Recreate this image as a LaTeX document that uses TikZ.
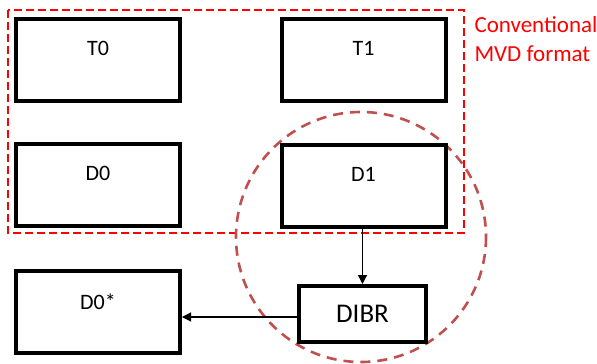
\documentclass[tikz,border=0pt]{standalone}
\usepackage{fontspec}
\setmainfont{Carlito}
\usetikzlibrary{arrows.meta}
\definecolor{mvdred}{RGB}{255,0,0}
\definecolor{roundred}{RGB}{192,80,77}
\tikzset{
  frame/.style={draw=black, line width=4pt, fill=white, inner sep=0pt,
    minimum width=164pt, minimum height=82pt,
    font=\fontsize{22}{26}\selectfont, text height=14pt, text depth=22.5pt},
  procbox/.style={draw=black, line width=4pt, fill=white, inner sep=0pt,
    minimum width=127pt, minimum height=56pt,
    font=\fontsize{27}{32}\selectfont},
  flow/.style={draw=black, line width=1.2pt, -{Triangle[length=9pt,width=9pt]}},
  mvdframe/.style={draw=mvdred, line width=2.6pt, dash pattern=on 8pt off 4pt},
  dibrzone/.style={draw=roundred, line width=2.6pt, dash pattern=on 10pt off 7pt}
}
\begin{document}
\begin{tikzpicture}[x=1pt, y=-1pt]
  \useasboundingbox (0,0) rectangle (597,364);

  % region of the conventional multiview-plus-depth format
  \draw[mvdframe] (8,10) rectangle (464,233);
  \node[anchor=base west, text=mvdred, align=left,
        font=\fontsize{23}{28.5}\selectfont] (caption) at (471,61)
        {Conventional\\MVD format};

  % region handled by depth-image-based rendering
  \draw[dibrzone] (361,237) circle[radius=125];

  % texture and depth views
  \node[frame] (t0) at (98,60) {T0};
  \node[frame] (t1) at (363.5,60) {T1};
  \node[frame] (d0) at (98,185) {D0};
  \node[frame] (d1) at (363.5,186) {D1};

  % synthesised view and renderer
  \node[frame, text depth=19.5pt] (d0s) at (98,312) {D0*};
  \node[procbox] (dibr) at (362.5,314) {DIBR};

  \draw[flow] (d1.south -| dibr.north) -- (dibr.north);
  \draw[flow] ([yshift=-3pt]dibr.west) -- ([yshift=-3pt]dibr.west -| d0s.east);
\end{tikzpicture}
\end{document}
